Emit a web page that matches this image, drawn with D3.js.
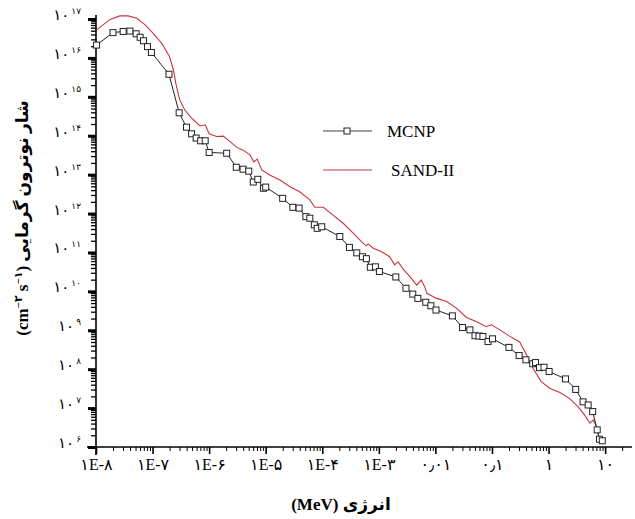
<!DOCTYPE html>
<html>
<head>
<meta charset="utf-8">
<script src="https://cdn.jsdelivr.net/npm/d3@7"></script>
<style>
  body { margin: 0; background: #fff; }
  svg { display: block; }
  text { font-family: "Liberation Serif", "DejaVu Serif", serif; fill: #000; }
</style>
</head>
<body>
<div id="chart"></div>
<script>
// Datos (log10 de energía en MeV y log10 del flujo)
let mcnpLogE = [-7.99, -7.70, -7.52, -7.40, -7.29, -7.22, -7.16, -7.09, -7.02, -6.71, -6.53, -6.40, -6.31, -6.23, -6.15, -6.07,
    -6.00, -5.69, -5.52, -5.40, -5.30, -5.22, -5.14, -5.04, -5.00, -4.70, -4.52, -4.41, -4.29, -4.22, -4.14, -4.09, -4.01,
    -3.69, -3.52, -3.39, -3.29, -3.22, -3.15, -3.06, -2.99, -2.70, -2.52, -2.40, -2.31, -2.17, -2.08, -1.99, -1.70, -1.52,
    -1.39, -1.30, -1.23, -1.16, -1.07, -0.99, -0.70, -0.52, -0.40, -0.28, -0.23, -0.16, -0.08, 0.01, 0.30, 0.48, 0.61,
    0.70, 0.78, 0.86, 0.90, 0.95];
let mcnpLogFlux = [16.33, 16.65, 16.68, 16.69, 16.62, 16.53, 16.44, 16.29, 16.14, 15.58, 14.59, 14.22, 14.05, 13.94, 13.87, 13.87,
    13.57, 13.55, 13.19, 13.14, 13.09, 12.81, 12.88, 12.65, 12.68, 12.39, 12.16, 12.14, 11.92, 11.88, 11.71, 11.62, 11.66,
    11.41, 11.13, 10.99, 10.89, 10.84, 10.62, 10.63, 10.51, 10.37, 10.08, 9.93, 9.82, 9.72, 9.63, 9.52, 9.37, 9.07,
    9.01, 8.86, 8.85, 8.84, 8.71, 8.78, 8.56, 8.35, 8.24, 8.14, 8.17, 8.04, 8.05, 7.94, 7.75, 7.48, 7.16,
    7.08, 6.91, 6.44, 6.20, 6.16];

let sandLogE = [-7.99, -7.75, -7.58, -7.43, -7.28, -7.13, -6.99, -6.84, -6.70, -6.63, -6.59, -6.52, -6.43, -6.31, -6.16, -6.07,
    -6.00, -5.87, -5.75, -5.63, -5.51, -5.40, -5.28, -5.21, -5.15, -5.07, -4.93, -4.75, -4.57, -4.40, -4.22, -4.13, -3.98,
    -3.81, -3.63, -3.45, -3.28, -3.22, -3.19, -3.10, -2.95, -2.81, -2.72, -2.66, -2.57, -2.45, -2.33, -2.25, -2.19, -2.15,
    -1.98, -1.80, -1.63, -1.45, -1.27, -1.10, -1.01, -0.86, -0.69, -0.51, -0.39, -0.27, -0.13, 0.02, 0.20, 0.37, 0.52,
    0.64, 0.73, 0.79, 0.85, 0.89, 0.93, 0.96];
let sandLogFlux = [16.72, 16.99, 17.08, 17.08, 17.02, 16.85, 16.63, 16.38, 16.03, 15.69, 15.35, 14.92, 14.66, 14.45, 14.25, 14.28,
    14.05, 13.98, 13.99, 13.85, 13.70, 13.63, 13.51, 13.33, 13.40, 13.12, 12.99, 12.86, 12.69, 12.56, 12.35, 12.16, 12.16,
    11.96, 11.75, 11.49, 11.24, 11.17, 11.22, 11.11, 11.02, 10.89, 10.68, 10.76, 10.57, 10.38, 10.16, 10.29, 10.12, 9.95,
    9.82, 9.74, 9.57, 9.33, 9.22, 9.09, 9.14, 9.01, 8.85, 8.70, 8.37, 8.01, 7.68, 7.51, 7.40, 7.25, 7.04,
    6.82, 6.61, 6.69, 6.52, 6.26, 6.18, 6.10];

let xTickValues = [1e-8, 1e-7, 1e-6, 1e-5, 1e-4, 1e-3, 1e-2, 1e-1, 1, 10];
let xTickLabels = ['۱E-۸', '۱E-۷', '۱E-۶', '۱E-۵', '۱E-۴', '۱E-۳', '۰٫۰۱', '۰٫۱', '۱', '۱۰'];
let yTickExponents = [6, 7, 8, 9, 10, 11, 12, 13, 14, 15, 16, 17];
let seriesNames = ['MCNP', 'SAND-II'];

let faDigits = '۰۱۲۳۴۵۶۷۸۹';
function toFa(n) { return String(n).replace(/\d/g, function(d) { return faDigits[d]; }); }

let width = 635, height = 519;
let svg = d3.select('#chart').append('svg').attr('width', width).attr('height', height);

//Escalas
let x = d3.scaleLog().domain([1e-8, Math.pow(10, 1.44)]).range([96, 630]);
let y = d3.scaleLog().domain([1e6, 1e17]).range([447, 19]);

//Ticks menores
let minorX = [], minorY = [];
for (let e = -8; e <= 1; e++) {
    for (let m = 2; m <= 9; m++) {
        let v = m * Math.pow(10, e);
        if (v <= x.domain()[1]) minorX.push(v);
    }
}
for (let e = 6; e < 17; e++) {
    for (let m = 2; m <= 9; m++) minorY.push(m * Math.pow(10, e));
}

//Eje X
let gx = svg.append('g').attr('transform', 'translate(0,447)');
gx.append('g').call(d3.axisBottom(x).tickValues(minorX).tickSize(4).tickFormat(''))
    .call(function(g) { g.select('.domain').remove(); });
gx.append('g').call(d3.axisBottom(x).tickValues(xTickValues).tickSize(7)
        .tickFormat(function(d, i) { return xTickLabels[i]; }))
    .call(function(g) { g.select('.domain').remove(); })
    .call(function(g) {
        g.selectAll('.tick line').attr('stroke-width', 1.6);
        g.selectAll('.tick text').attr('y', 12).attr('dy', '0.71em')
            .style('font-size', '16px').style('font-family', '"Liberation Serif", "DejaVu Sans", serif');
    });
gx.append('line').attr('x1', 87).attr('x2', 632).attr('stroke', '#000').attr('stroke-width', 1.6);

//Eje Y
let gy = svg.append('g').attr('transform', 'translate(96,0)');
gy.append('g').call(d3.axisLeft(y).tickValues(minorY).tickSize(5).tickFormat(''))
    .call(function(g) { g.select('.domain').remove(); g.selectAll('line').attr('stroke-width', 1.3); });
gy.append('g').call(d3.axisLeft(y).tickValues(yTickExponents.map(function(e) { return Math.pow(10, e); })).tickSize(8).tickFormat(''))
    .call(function(g) { g.select('.domain').remove(); g.selectAll('line').attr('stroke-width', 3); });
gy.append('line').attr('y1', 15).attr('y2', 455).attr('stroke', '#000').attr('stroke-width', 1.6);

let yLabels = svg.append('g').selectAll('text')
    .data(yTickExponents)
    .enter()
    .append('text')
    .attr('x', 81)
    .attr('y', function(d) { return y(Math.pow(10, d)) + 1; })
    .attr('text-anchor', 'end')
    .style('font-family', '"Liberation Serif", "DejaVu Sans", serif')
    .style('font-size', '15px');
yLabels.append('tspan').text('۱۰');
yLabels.append('tspan').attr('dx', 2).attr('dy', -6).style('font-size', '9px').text(function(d) { return toFa(d); });

//Líneas
let line = d3.line()
    .x(function(d) { return x(Math.pow(10, d[0])); })
    .y(function(d) { return y(Math.pow(10, d[1])); });

let sandData = sandLogE.map(function(d, i) { return [d, sandLogFlux[i]]; });
let mcnpData = mcnpLogE.map(function(d, i) { return [d, mcnpLogFlux[i]]; });

svg.append('path').datum(sandData).attr('d', line)
    .attr('fill', 'none').attr('stroke', '#c8343c').attr('stroke-width', 1.1);
svg.append('path').datum(mcnpData).attr('d', line)
    .attr('fill', 'none').attr('stroke', '#222').attr('stroke-width', 1);
svg.append('g').selectAll('rect')
    .data(mcnpData)
    .enter()
    .append('rect')
    .attr('x', function(d) { return x(Math.pow(10, d[0])) - 3; })
    .attr('y', function(d) { return y(Math.pow(10, d[1])) - 3; })
    .attr('width', 6).attr('height', 6)
    .attr('fill', '#fff').attr('stroke', '#222').attr('stroke-width', 1);

//Leyenda
let legend = svg.append('g');
legend.append('line').attr('x1', 323).attr('x2', 372).attr('y1', 131).attr('y2', 131).attr('stroke', '#444');
legend.append('rect').attr('x', 344).attr('y', 128).attr('width', 6).attr('height', 6)
    .attr('fill', '#fff').attr('stroke', '#222');
legend.append('text').attr('x', 387).attr('y', 137).style('font-size', '17px').text(seriesNames[0]);
legend.append('line').attr('x1', 323).attr('x2', 372).attr('y1', 170).attr('y2', 170).attr('stroke', '#c8343c').attr('stroke-width', 1.1);
legend.append('text').attr('x', 391).attr('y', 176).style('font-size', '17px').text(seriesNames[1]);

//Títulos
svg.append('text')
    .attr('x', 341).attr('y', 510)
    .attr('text-anchor', 'middle')
    .attr('direction', 'rtl')
    .style('font-family', '"Liberation Serif", "DejaVu Sans", serif')
    .style('font-weight', 'bold').style('font-size', '17px')
    .text('انرژی (MeV)');

let yTitle = svg.append('text')
    .attr('transform', 'translate(28,218) rotate(-90)')
    .attr('text-anchor', 'middle')
    .attr('direction', 'rtl')
    .style('font-family', '"Liberation Serif", "DejaVu Sans", serif')
    .style('font-weight', 'bold').style('font-size', '17px');
yTitle.append('tspan').text('شار نوترون گرمایی (cm');
yTitle.append('tspan').attr('dy', -6).style('font-size', '11px').text('−۲');
yTitle.append('tspan').attr('dy', 6).text(' s');
yTitle.append('tspan').attr('dy', -6).style('font-size', '11px').text('−۱');
yTitle.append('tspan').attr('dy', 6).text(')');
</script>
</body>
</html>
